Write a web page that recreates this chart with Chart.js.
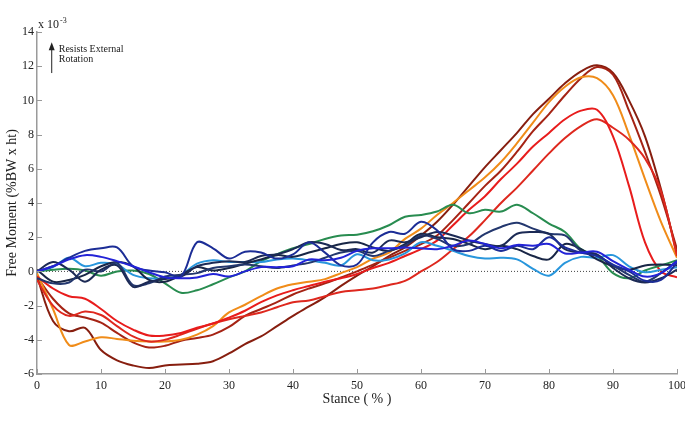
<!DOCTYPE html>
<html>
<head>
<meta charset="utf-8">
<script src="https://cdn.jsdelivr.net/npm/chart.js@4.4.1/dist/chart.umd.min.js"></script>
<style>
  html, body { margin: 0; padding: 0; background: #fff; }
  #wrap { width: 685px; height: 421px; }
</style>
</head>
<body>
<div id="wrap"><canvas id="momentChart" width="685" height="421"></canvas></div>
<script>
// stance (% of stance phase)
const stance = [0, 2.5, 5, 7.5, 10, 12.5, 15, 17.5, 20, 22.5, 25, 27.5, 30, 32.5, 35, 37.5, 40,
  42.5, 45, 47.5, 50, 52.5, 55, 57.5, 60, 62.5, 65, 67.5, 70, 72.5, 75, 77.5, 80, 82.5, 85, 87.5,
  90, 92.5, 95, 97.5, 100];

// free moment, x 10^-3 %BW x ht
const darkRed1 = [-0.3, -2.9, -3.5, -3.3, -4.6, -5.2, -5.5, -5.65, -5.5, -5.45, -5.4, -5.25, -4.8,
  -4.25, -3.8, -3.2, -2.6, -2.05, -1.5, -0.85, -0.25, 0.3, 0.9, 1.4, 2.1, 2.9, 3.9, 5.0, 6.1, 7.1,
  8.1, 9.2, 10.1, 11.0, 11.7, 12.05, 11.6, 10.0, 7.9, 4.8, 1.0];
const darkRed2 = [-0.3, -1.6, -2.45, -2.7, -3.0, -3.6, -4.15, -4.45, -4.35, -4.05, -3.9, -3.7, -3.25,
  -2.6, -2.2, -1.8, -1.35, -1.0, -0.7, -0.35, 0.0, 0.4, 0.8, 1.2, 1.6, 2.1, 3.0, 4.0, 5.0, 5.9,
  7.0, 8.2, 9.2, 10.3, 11.3, 11.95, 11.5, 9.4, 7.0, 4.4, 1.3];
const orange = [-0.1, -2.2, -4.3, -4.1, -3.85, -3.95, -4.05, -4.1, -4.1, -4.0, -3.7, -3.2, -2.4,
  -1.95, -1.45, -1.0, -0.75, -0.6, -0.45, -0.1, 0.25, 0.75, 1.1, 1.9, 2.5, 3.3, 4.0, 4.75, 5.5, 6.4,
  7.5, 8.7, 9.9, 10.8, 11.35, 11.3, 10.3, 8.0, 5.4, 2.9, 0.8];
const redA = [-0.3, -1.0, -1.45, -1.6, -2.2, -2.9, -3.4, -3.75, -3.75, -3.6, -3.3, -3.05, -2.7,
  -2.3, -1.8, -1.4, -1.1, -0.85, -0.6, -0.4, -0.15, 0.2, 0.5, 0.9, 1.3, 1.8, 2.7, 3.6, 4.4, 5.4,
  6.3, 7.3, 8.1, 8.9, 9.4, 9.45, 7.9, 5.0, 1.7, 0.0, -0.35];
const redB = [-0.5, -2.0, -2.6, -2.35, -2.55, -3.2, -3.8, -4.1, -4.0, -3.7, -3.35, -3.05, -2.8,
  -2.6, -2.4, -2.1, -1.8, -1.7, -1.45, -1.2, -1.1, -1.0, -0.8, -0.55, 0.0, 0.55, 1.3, 2.05, 3.0, 4.0,
  4.9, 5.9, 6.9, 7.8, 8.5, 8.9, 8.4, 7.7, 6.6, 4.7, 0.9];
const green = [0, 0.1, 0.15, 0.05, -0.25, 0.0, 0.05, -0.15, -0.7, -1.25, -1.1, -0.75, -0.35, 0.0,
  0.6, 1.0, 1.35, 1.6, 1.9, 2.1, 2.15, 2.35, 2.7, 3.2, 3.3, 3.5, 3.9, 3.4, 3.6, 3.5, 3.9, 3.4, 2.8,
  2.3, 1.3, 0.9, -0.1, -0.4, 0.05, 0.35, 0.65];
const lightBlue = [0, 0.25, 0.8, 0.3, 0.5, 0.4, -0.2, -0.4, -0.4, -0.2, 0.45, 0.65, 0.55, 0.55,
  0.55, 0.7, 0.75, 0.65, 0.5, 0.35, 1.0, 0.65, 0.7, 1.05, 1.7, 1.5, 1.2, 0.9, 0.75, 0.8, 0.7, 0.15,
  -0.25, 0.5, 0.85, 0.8, 0.95, 0.3, -0.05, 0.1, 0.25];
const blue = [0, 0.3, 0.7, 0.95, 0.85, 0.6, 0.3, -0.05, -0.35, -0.4, -0.35, -0.15, -0.3, 0.0, 0.25,
  0.25, 0.3, 0.7, 0.65, 0.8, 1.2, 1.35, 1.35, 1.4, 1.35, 1.3, 1.5, 1.8, 1.6, 1.35, 1.55, 1.5, 1.6,
  1.05, 1.1, 1.15, 0.6, 0.1, -0.3, -0.1, 0.6];
const navy = [0, 0.3, 0.8, 1.2, 1.35, 1.4, 0.3, 0.05, -0.05, -0.3, 1.7, 1.35, 0.75, 1.15, 1.1, 0.75,
  1.0, 1.7, 1.1, 0.35, 0.4, 1.7, 2.3, 2.2, 2.9, 2.4, 1.3, 1.2, 1.5, 1.2, 1.5, 1.3, 2.0, 1.4, 1.1,
  0.9, 0.4, 0.0, -0.55, -0.5, 0.5];
const slateA = [0, 0.55, 0.1, -0.6, 0.1, 0.35, -0.9, -0.6, -0.45, -0.3, 0.3, 0.5, 0.6, 0.55, 0.9,
  1.0, 1.3, 1.7, 1.6, 1.25, 1.3, 1.1, 1.8, 1.7, 2.0, 2.3, 2.1, 1.8, 1.6, 1.5, 2.2, 2.3, 2.2, 1.3,
  1.1, 1.0, 0.2, -0.4, -0.65, -0.4, 0.1];
const slateB = [-0.4, -0.7, -0.65, 0.1, 0.0, 0.5, -0.8, -0.7, -0.3, -0.2, -0.1, 0.2, 0.3, 0.4, 0.3,
  0.2, 0.35, 0.5, 0.8, 1.1, 1.2, 0.9, 1.2, 1.5, 2.1, 1.9, 1.5, 1.6, 2.2, 2.6, 2.85, 2.5, 2.2, 2.1,
  1.2, 0.95, 0.35, -0.2, -0.6, -0.1, 0.6];
const slateC = [0.1, -0.6, -0.5, -0.2, 0.3, 0.55, 0.3, -0.5, -0.6, -0.2, 0.25, 0.05, 0.2, 0.45, 0.7,
  0.95, 0.85, 1.1, 1.35, 1.6, 1.7, 1.4, 1.2, 1.6, 2.2, 2.0, 1.9, 1.6, 1.3, 1.5, 1.3, 0.9, 0.7, 1.6,
  1.3, 0.7, 0.3, 0.1, 0.35, 0.4, 0.35];

const xTicks = [0, 10, 20, 30, 40, 50, 60, 70, 80, 90, 100];
const yTicks = [-6, -4, -2, 0, 2, 4, 6, 8, 10, 12, 14];

const serif = '"Liberation Serif", "DejaVu Serif", serif';

function line(values, color) {
  return {
    data: stance.map((s, i) => ({ x: s, y: values[i] })),
    borderColor: color,
    borderWidth: 2,
    pointRadius: 0,
    fill: false,
    tension: 0.35
  };
}

const datasets = [
  line(blue, 'rgb(35,35,215)'),
  line(navy, 'rgb(28,45,150)'),
  line(slateA, 'rgb(28,42,85)'),
  line(slateB, 'rgb(35,55,110)'),
  line(slateC, 'rgb(25,38,70)'),
  line(lightBlue, 'rgb(40,150,220)'),
  line(green, 'rgb(40,140,80)'),
  line(redA, 'rgb(232,28,28)'),
  line(redB, 'rgb(222,40,30)'),
  line(orange, 'rgb(240,140,25)'),
  line(darkRed2, 'rgb(165,35,20)'),
  line(darkRed1, 'rgb(135,30,15)'),
  {
    data: [{ x: 0, y: 0 }, { x: 100, y: 0 }],
    borderColor: '#444',
    borderWidth: 1,
    borderDash: [1, 2],
    pointRadius: 0,
    fill: false
  }
];

const decor = {
  id: 'decor',
  afterDraw(chart) {
    const { ctx } = chart;
    const x = chart.scales.x, y = chart.scales.y;
    ctx.save();
    ctx.strokeStyle = '#9a9a9a';
    ctx.lineWidth = 1;
    for (const v of xTicks) {
      const px = Math.round(x.getPixelForValue(v)) + 0.5;
      ctx.beginPath();
      ctx.moveTo(px, y.bottom);
      ctx.lineTo(px, y.bottom - 5);
      ctx.stroke();
    }
    for (const v of yTicks) {
      const py = Math.round(y.getPixelForValue(v)) + 0.5;
      ctx.beginPath();
      ctx.moveTo(x.left, py);
      ctx.lineTo(x.left + 5, py);
      ctx.stroke();
    }

    // exponent label
    ctx.fillStyle = '#222';
    ctx.textBaseline = 'alphabetic';
    ctx.font = '12px ' + serif;
    ctx.fillText('x 10', x.left + 1, y.top - 4);
    const w = ctx.measureText('x 10').width;
    ctx.font = '8px ' + serif;
    ctx.fillText('-3', x.left + 2 + w, y.top - 9);

    // arrow annotation
    const ax = x.getPixelForValue(2.3);
    const ayTop = y.getPixelForValue(13.4);
    const ayBot = y.getPixelForValue(11.6);
    ctx.strokeStyle = '#222';
    ctx.lineWidth = 1;
    ctx.beginPath();
    ctx.moveTo(ax, ayBot);
    ctx.lineTo(ax, ayTop + 4);
    ctx.stroke();
    ctx.beginPath();
    ctx.moveTo(ax, ayTop);
    ctx.lineTo(ax - 3, ayTop + 8);
    ctx.lineTo(ax + 3, ayTop + 8);
    ctx.closePath();
    ctx.fill();
    ctx.font = '10px ' + serif;
    ctx.fillText('Resists External', ax + 7, ayTop + 10);
    ctx.fillText('Rotation', ax + 7, ayTop + 20);
    ctx.restore();
  }
};

new Chart(document.getElementById('momentChart'), {
  type: 'line',
  data: { datasets: datasets },
  options: {
    responsive: false,
    animation: false,
    devicePixelRatio: 1,
    layout: { padding: { top: 32, right: 8, left: 0, bottom: 0 } },
    plugins: { legend: { display: false }, tooltip: { enabled: false } },
    scales: {
      x: {
        type: 'linear',
        min: 0,
        max: 100,
        afterFit: (s) => { s.height = 47; s.paddingLeft = 0; s.paddingRight = 0; },
        afterBuildTicks: (s) => { s.ticks = xTicks.map(v => ({ value: v })); },
        grid: { display: false, drawTicks: false, tickLength: 0 },
        border: { display: true, color: '#9a9a9a', width: 1.5 },
        ticks: { color: '#222', padding: 5, font: { family: serif, size: 12 }, maxRotation: 0 },
        title: { display: true, text: 'Stance ( % )', color: '#222',
          font: { family: serif, size: 14 }, padding: { top: 0, bottom: 13 } }
      },
      y: {
        type: 'linear',
        min: -6,
        max: 14,
        afterFit: (s) => { s.width = 37; s.paddingTop = 0; s.paddingBottom = 0; },
        afterBuildTicks: (s) => { s.ticks = yTicks.map(v => ({ value: v })); },
        grid: { display: false, drawTicks: false, tickLength: 0 },
        border: { display: true, color: '#9a9a9a', width: 1.5 },
        ticks: { color: '#222', padding: 3, font: { family: serif, size: 12 } },
        title: { display: true, text: 'Free Moment (%BW x ht)', color: '#222',
          font: { family: serif, size: 14 }, padding: { top: 4, bottom: 0 } }
      }
    }
  },
  plugins: [decor]
});
</script>
</body>
</html>
